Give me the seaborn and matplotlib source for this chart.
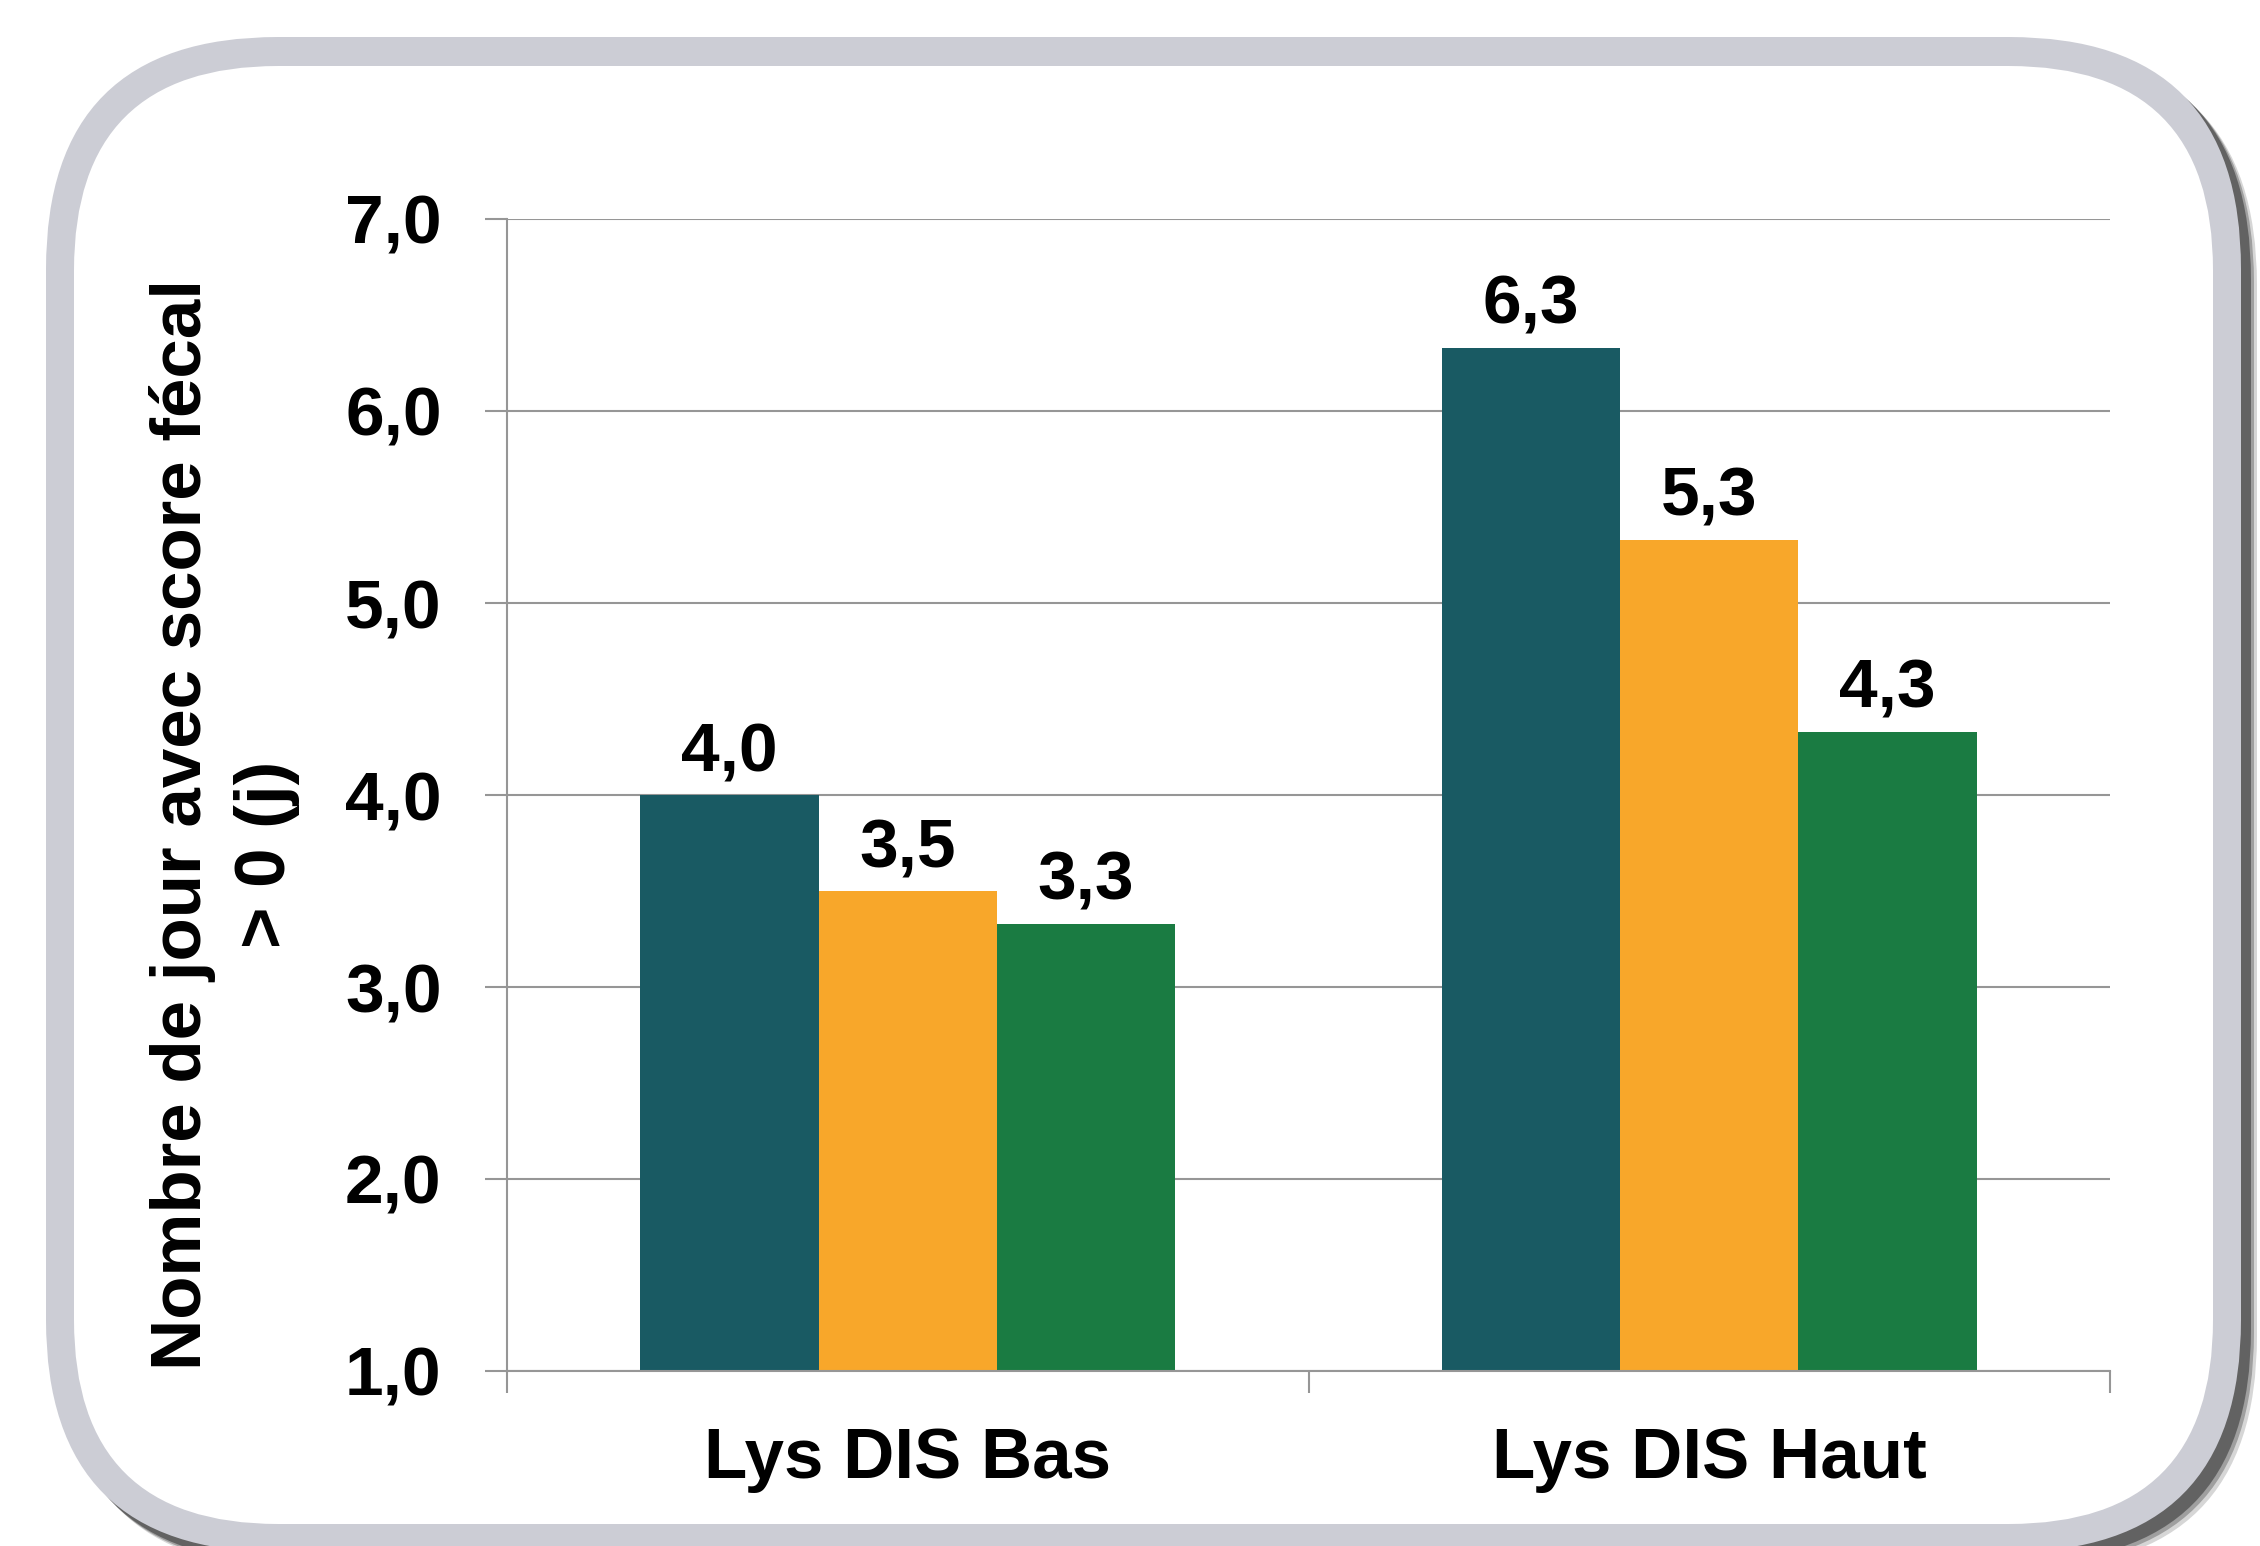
import numpy as np
import pandas as pd
import matplotlib
matplotlib.use("Agg")
import matplotlib.pyplot as plt
from matplotlib.patches import FancyBboxPatch
from matplotlib.ticker import FixedLocator, FuncFormatter
import seaborn as sns

#%% donnees

groupes = ["Lys DIS Bas", "Lys DIS Haut"]
series = ["Série 1", "Série 2", "Série 3"]
valeurs_bas = [4.0, 3.5, 3.33]
valeurs_haut = [6.33, 5.33, 4.33]
couleurs = ["#195A63", "#F8A72A", "#1A7B42"]

ylabel_1 = "Nombre de jour avec score fécal"
ylabel_2 = "> 0 (j)"
yticks = [1, 2, 3, 4, 5, 6, 7]

df = pd.DataFrame({
    "groupe": [groupes[0]] * 3 + [groupes[1]] * 3,
    "serie": series * 2,
    "valeur": valeurs_bas + valeurs_haut,
})

#%% style

sns.set_style("white")
plt.rcParams["font.family"] = ["Liberation Sans", "DejaVu Sans"]
plt.rcParams["font.weight"] = "bold"
plt.rcParams["text.color"] = "black"

virgule = lambda v: f"{v:.1f}".replace(".", ",")
gris = "#969696"
fs = 50

fig = plt.figure(figsize=(22.6, 15.46), dpi=100)

# cadre arrondi avec ombre
bg = fig.add_axes([0, 0, 1, 1], zorder=-1)
bg.set_xlim(0, 2260)
bg.set_ylim(1546, 0)
bg.axis("off")

for k, a in zip([16, 13, 10], [0.25, 0.45, 0.9]):
    bg.add_patch(FancyBboxPatch((46 + k, 37 + k), 2195, 1515,
                                boxstyle="round,pad=0,rounding_size=232",
                                fc="#5c5c5c", ec="none", alpha=a))
bg.add_patch(FancyBboxPatch((46, 37), 2195, 1515,
                            boxstyle="round,pad=0,rounding_size=232",
                            fc="#CCCDD5", ec="none"))
bg.add_patch(FancyBboxPatch((74, 66), 2139, 1458,
                            boxstyle="round,pad=0,rounding_size=204",
                            fc="white", ec="none"))

#%% graphique

ax = fig.add_axes([507 / 2260, 1 - 1371 / 1546, 1603 / 2260, 1152 / 1546])
ax.patch.set_alpha(0)

sns.barplot(data=df, x="groupe", y="valeur", hue="serie", palette=couleurs,
            saturation=1, width=0.667, gap=0, linewidth=0, legend=False, ax=ax)

ax.set_ylim(1, 7)
ax.set_xlim(-0.5, 1.5)
ax.set_yticks(yticks)
ax.yaxis.set_major_formatter(FuncFormatter(lambda v, p: virgule(v)))
ax.set_axisbelow(True)
ax.yaxis.grid(True, color=gris, linewidth=1.5)
ax.xaxis.grid(False)

for s in ["top", "right"]:
    ax.spines[s].set_visible(False)
for s in ["left", "bottom"]:
    ax.spines[s].set_color(gris)
    ax.spines[s].set_linewidth(1.5)

ax.tick_params(axis="y", left=True, length=16, width=1.5, color=gris, pad=31,
               labelsize=fs, labelcolor="black")
ax.tick_params(axis="x", which="major", length=0, pad=40, labelsize=51,
               labelcolor="black")
ax.xaxis.set_minor_locator(FixedLocator([-0.5, 0.5, 1.5]))
ax.tick_params(axis="x", which="minor", bottom=True, length=16, width=1.5,
               color=gris)
for lab in ax.get_xticklabels() + ax.get_yticklabels():
    lab.set_fontweight("bold")

ax.set_xlabel("")
ax.set_ylabel("")

for cont in ax.containers:
    ax.bar_label(cont, labels=[virgule(b.get_height()) for b in cont],
                 padding=7, fontsize=fs, fontweight="bold", color="black")

fig.text(183 / 2260, 1 - 825 / 1546, ylabel_1, rotation=90, ha="center",
         va="center", fontsize=51, fontweight="bold", color="black")
fig.text(267 / 2260, 1 - 854 / 1546, ylabel_2, rotation=90, ha="center",
         va="center", fontsize=51, fontweight="bold", color="black")

fig.savefig("out.png", dpi=100)
